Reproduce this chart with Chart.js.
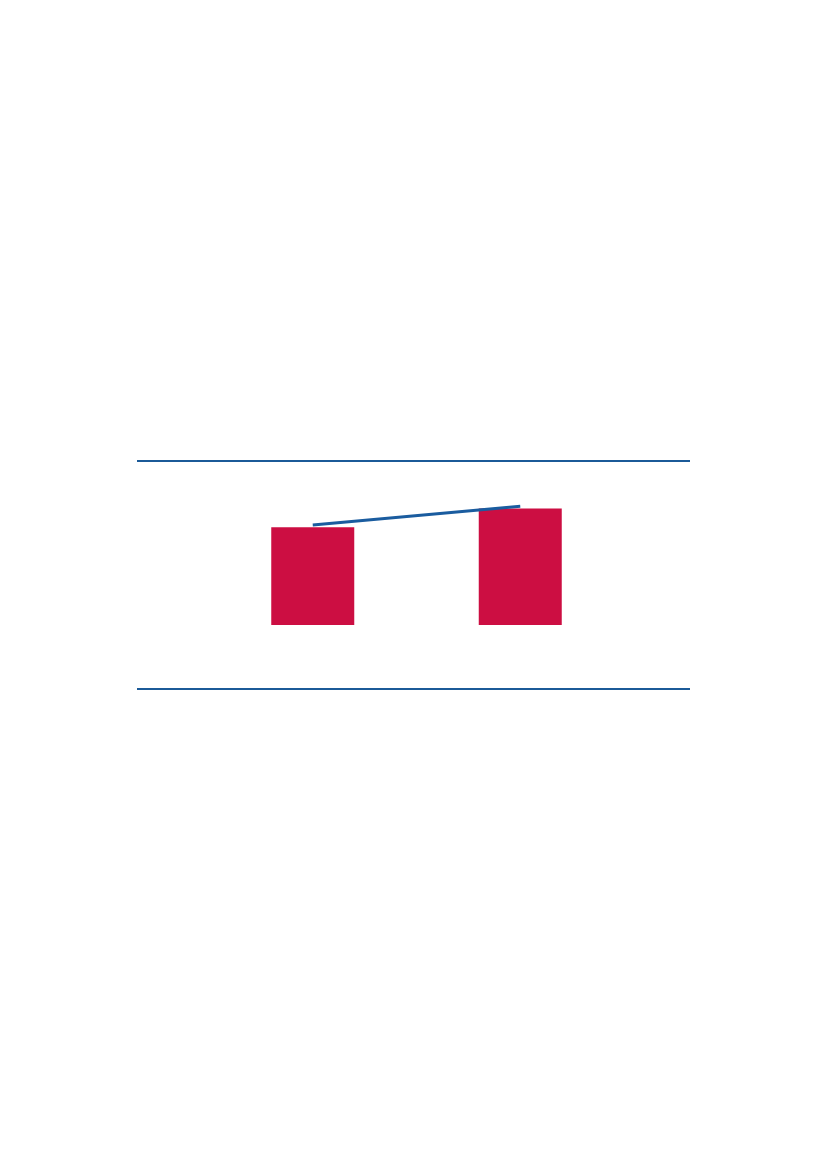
<!DOCTYPE html>
<html>
<head>
<meta charset="utf-8">
<script src="https://cdn.jsdelivr.net/npm/chart.js@4/dist/chart.umd.min.js"></script>
<style>
  html, body { margin: 0; padding: 0; background: #fff; }
  body { width: 827px; height: 1169px; position: relative; }
  .frame {
    position: absolute;
    left: 137px;
    top: 460px;
    width: 553px;
    height: 226px;
    border-top: 2px solid #1b5a98;
    border-bottom: 2px solid #1b5a98;
  }
</style>
</head>
<body>
<div class="frame"><canvas id="chart"></canvas></div>
<script>
// values (no scale shown, relative units)
const categories = ["A", "B"];
const barValues = [42, 50];
const lineValues = [43, 51];

const ctx = document.getElementById("chart");

new Chart(ctx, {
    data: {
        labels: categories,
        datasets: [
            {
                type: "line",
                data: lineValues,
                borderColor: "#1a5c9f",
                borderWidth: 3,
                pointRadius: 0,
                tension: 0,
                order: 0,
            },
            {
                type: "bar",
                data: barValues,
                backgroundColor: "#cc0e42",
                categoryPercentage: 0.5,
                barPercentage: 0.8,
                order: 1,
            },
        ],
    },
    options: {
        responsive: true,
        maintainAspectRatio: false,
        animation: false,
        layout: { padding: { left: 72, right: 66, top: 0, bottom: 0 } },
        plugins: {
            legend: { display: false },
            tooltip: { enabled: false },
        },
        scales: {
            x: { display: false, offset: true },
            y: { display: false, min: -27, max: 70 },
        },
    },
});
</script>
</body>
</html>
